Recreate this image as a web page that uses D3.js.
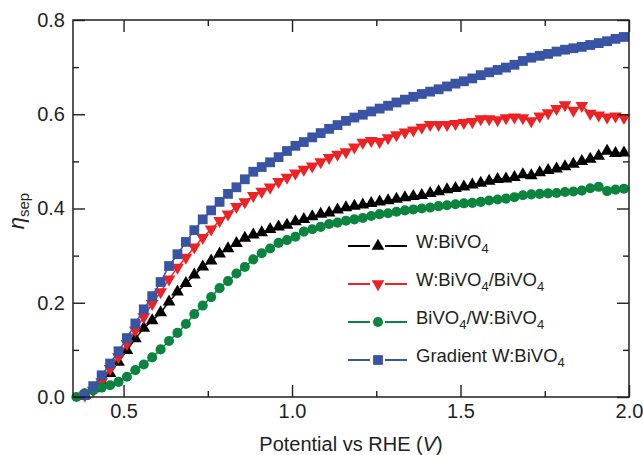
<!DOCTYPE html>
<html>
<head>
<meta charset="utf-8">
<script src="https://cdn.jsdelivr.net/npm/d3@7"></script>
<style>
  body { margin: 0; background: #fff; }
  svg { font-family: "Liberation Sans", Arial, sans-serif; }
</style>
</head>
<body>
<div id="chart"></div>
<script>
// potential (V vs RHE), shared by all four series
const potential = [
  0.36, 0.385, 0.41, 0.435, 0.46, 0.485, 0.51, 0.535, 0.56, 0.585,
  0.61, 0.635, 0.66, 0.685, 0.71, 0.735, 0.76, 0.785, 0.81, 0.835,
  0.86, 0.885, 0.91, 0.935, 0.96, 0.985, 1.01, 1.035, 1.06, 1.085,
  1.11, 1.135, 1.16, 1.185, 1.21, 1.235, 1.26, 1.285, 1.31, 1.335,
  1.36, 1.385, 1.41, 1.435, 1.46, 1.485, 1.51, 1.535, 1.56, 1.585,
  1.61, 1.635, 1.66, 1.685, 1.71, 1.735, 1.76, 1.785, 1.81, 1.835,
  1.86, 1.885, 1.91, 1.935, 1.96, 1.985
];

const wBiVO4 = [
  null, 0.004, 0.018, 0.033, 0.050, 0.074, 0.099, 0.124, 0.146, 0.162,
  0.179, 0.202, 0.223, 0.241, 0.259, 0.276, 0.289, 0.304, 0.315, 0.326,
  0.337, 0.344, 0.349, 0.356, 0.361, 0.365, 0.372, 0.377, 0.383, 0.388,
  0.391, 0.397, 0.402, 0.405, 0.408, 0.411, 0.414, 0.417, 0.420, 0.423,
  0.426, 0.428, 0.432, 0.436, 0.440, 0.443, 0.446, 0.450, 0.454, 0.458,
  0.462, 0.463, 0.466, 0.472, 0.470, 0.476, 0.481, 0.484, 0.489, 0.494,
  0.500, 0.505, 0.511, 0.522, 0.517, 0.518
];

const wBiVO4OnBiVO4 = [
  null, 0.004, 0.014, 0.032, 0.060, 0.085, 0.113, 0.142, 0.170, 0.198,
  0.223, 0.250, 0.275, 0.296, 0.318, 0.338, 0.356, 0.374, 0.388, 0.404,
  0.414, 0.427, 0.436, 0.445, 0.457, 0.466, 0.475, 0.483, 0.490, 0.499,
  0.508, 0.515, 0.520, 0.530, 0.540, 0.544, 0.542, 0.550, 0.556, 0.562,
  0.566, 0.572, 0.578, 0.578, 0.578, 0.580, 0.582, 0.584, 0.590, 0.590,
  0.588, 0.592, 0.594, 0.592, 0.586, 0.596, 0.603, 0.612, 0.620, 0.608,
  0.618, 0.602, 0.598, 0.594, 0.596, 0.593
];

const biVO4OnWBiVO4 = [
  0.000, 0.008, 0.014, 0.020, 0.025, 0.032, 0.043, 0.057, 0.069, 0.084,
  0.101, 0.119, 0.136, 0.155, 0.176, 0.194, 0.212, 0.231, 0.246, 0.262,
  0.276, 0.292, 0.305, 0.315, 0.327, 0.333, 0.340, 0.351, 0.356, 0.361,
  0.367, 0.370, 0.374, 0.377, 0.380, 0.384, 0.388, 0.390, 0.393, 0.396,
  0.398, 0.400, 0.402, 0.405, 0.407, 0.409, 0.411, 0.412, 0.414, 0.417,
  0.419, 0.421, 0.424, 0.428, 0.430, 0.431, 0.432, 0.433, 0.435, 0.436,
  0.438, 0.443, 0.446, 0.437, 0.440, 0.442
];

const gradientWBiVO4 = [
  null, 0.004, 0.023, 0.046, 0.071, 0.097, 0.125, 0.156, 0.186, 0.214,
  0.244, 0.278, 0.303, 0.329, 0.354, 0.377, 0.396, 0.414, 0.431, 0.445,
  0.462, 0.478, 0.488, 0.498, 0.509, 0.522, 0.533, 0.541, 0.551, 0.560,
  0.569, 0.577, 0.586, 0.593, 0.599, 0.606, 0.612, 0.618, 0.625, 0.631,
  0.637, 0.643, 0.648, 0.653, 0.659, 0.665, 0.670, 0.676, 0.683, 0.689,
  0.694, 0.699, 0.705, 0.713, 0.720, 0.724, 0.728, 0.733, 0.737, 0.740,
  0.743, 0.747, 0.751, 0.755, 0.760, 0.764
];

const xTicks = [0.5, 1.0, 1.5, 2.0];
const xMinorTicks = [0.75, 1.25, 1.75];
const yTicks = [0.0, 0.2, 0.4, 0.6, 0.8];
const yMinorTicks = [0.1, 0.3, 0.5, 0.7];

// label pieces: [text, isSubscript]
const series = [
  { name: [['W:BiVO', false], ['4', true]], values: wBiVO4, color: '#000000', shape: 'up' },
  { name: [['W:BiVO', false], ['4', true], ['/BiVO', false], ['4', true]], values: wBiVO4OnBiVO4, color: '#ed2224', shape: 'down' },
  { name: [['BiVO', false], ['4', true], ['/W:BiVO', false], ['4', true]], values: biVO4OnWBiVO4, color: '#0b8440', shape: 'circle' },
  { name: [['Gradient W:BiVO', false], ['4', true]], values: gradientWBiVO4, color: '#3a54a5', shape: 'square' }
];

const margin = { top: 20, right: 14, bottom: 58, left: 73 };
const width = 643 - margin.left - margin.right;
const height = 397 - margin.top;

const svg = d3.select('#chart')
  .append('svg')
  .attr('width', 643)
  .attr('height', 455);

const g = svg.append('g')
  .attr('transform', `translate(${margin.left},${margin.top})`);

const x = d3.scaleLinear().domain([0.35, 2.0]).range([0, width]);
const y = d3.scaleLinear().domain([0, 0.8]).range([height, 0]);

const symbolFor = (shape) => {
  if (shape === 'circle') return d3.symbol(d3.symbolCircle, 80)();
  if (shape === 'square') return d3.symbol(d3.symbolSquare, 96)();
  return d3.symbol(d3.symbolTriangle, 70)();
};

// series: line underneath, markers on top
series.forEach(s => {
  const pts = potential.map((p, i) => ({ p, v: s.values[i] })).filter(d => d.v !== null);
  const line = d3.line().x(d => x(d.p)).y(d => y(d.v));
  g.append('path')
    .datum(pts)
    .attr('fill', 'none')
    .attr('stroke', s.color)
    .attr('stroke-width', 1.5)
    .attr('d', line);
  g.append('g')
    .selectAll('path')
    .data(pts)
    .join('path')
    .attr('d', symbolFor(s.shape))
    .attr('fill', s.color)
    .attr('transform', d => `translate(${x(d.p)},${y(d.v)})` + (s.shape === 'down' ? ' rotate(180)' : ''));
});

// axes, ticks pointing inward on all four sides
const styleAxis = (sel) => {
  sel.select('.domain').remove();
  sel.selectAll('line').attr('stroke', '#231f20').attr('stroke-width', 1.4);
  sel.selectAll('text').attr('fill', '#231f20').style('font-size', '20px');
};
const fmt = d3.format('.1f');

g.append('g').attr('transform', `translate(0,${height})`)
  .call(d3.axisBottom(x).tickValues(xTicks).tickSize(-12).tickPadding(7).tickFormat(fmt))
  .call(styleAxis);
g.append('g').attr('transform', `translate(0,${height})`)
  .call(d3.axisBottom(x).tickValues(xMinorTicks).tickSize(-6).tickFormat(''))
  .call(styleAxis);
g.append('g')
  .call(d3.axisTop(x).tickValues(xTicks).tickSize(-12).tickFormat(''))
  .call(styleAxis);
g.append('g')
  .call(d3.axisTop(x).tickValues(xMinorTicks).tickSize(-6).tickFormat(''))
  .call(styleAxis);

g.append('g')
  .call(d3.axisLeft(y).tickValues(yTicks).tickSize(-12).tickPadding(8).tickFormat(fmt))
  .call(styleAxis);
g.append('g')
  .call(d3.axisLeft(y).tickValues(yMinorTicks).tickSize(-6).tickFormat(''))
  .call(styleAxis);
g.append('g').attr('transform', `translate(${width},0)`)
  .call(d3.axisRight(y).tickValues(yTicks).tickSize(-12).tickFormat(''))
  .call(styleAxis);
g.append('g').attr('transform', `translate(${width},0)`)
  .call(d3.axisRight(y).tickValues(yMinorTicks).tickSize(-6).tickFormat(''))
  .call(styleAxis);

g.append('rect')
  .attr('width', width)
  .attr('height', height)
  .attr('fill', 'none')
  .attr('stroke', '#231f20')
  .attr('stroke-width', 1.5);

// axis titles
const xTitle = svg.append('text')
  .attr('x', margin.left + width / 2)
  .attr('y', 451)
  .attr('text-anchor', 'middle')
  .attr('fill', '#231f20')
  .style('font-size', '20px');
xTitle.append('tspan').text('Potential vs RHE (');
xTitle.append('tspan').style('font-style', 'italic').text('V');
xTitle.append('tspan').text(')');

const yTitle = svg.append('text')
  .attr('transform', 'translate(24,211) rotate(-90)')
  .attr('text-anchor', 'middle')
  .attr('fill', '#231f20')
  .style('font-size', '22px');
yTitle.append('tspan').style('font-style', 'italic').text('η');
yTitle.append('tspan').attr('dy', 5).style('font-size', '15px').text('sep');

// legend
const legend = svg.append('g').attr('transform', 'translate(348,246)');
series.forEach((s, i) => {
  const row = legend.append('g').attr('transform', `translate(0,${i * 38})`);
  row.append('line')
    .attr('x1', 0).attr('x2', 59)
    .attr('stroke', s.color).attr('stroke-width', 2);
  row.append('rect')
    .attr('x', 22).attr('y', -6).attr('width', 15).attr('height', 12)
    .attr('fill', '#fff');
  row.append('path')
    .attr('d', symbolFor(s.shape))
    .attr('fill', s.color)
    .attr('transform', 'translate(30,0)' + (s.shape === 'down' ? ' rotate(180)' : ''));
  const label = row.append('text')
    .attr('x', 68)
    .attr('y', 7)
    .attr('fill', '#231f20')
    .style('font-size', '18.5px');
  s.name.forEach(([t, sub]) => {
    label.append('tspan')
      .attr('dy', sub ? 5 : (label.selectAll('tspan').size() > 0 ? -5 : 0))
      .style('font-size', sub ? '13px' : null)
      .text(t);
  });
});
</script>
</body>
</html>
